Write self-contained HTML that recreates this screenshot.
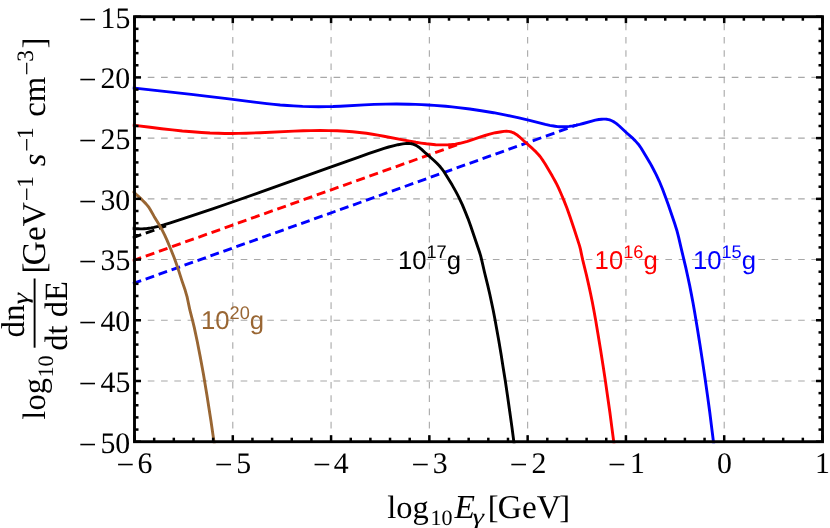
<!DOCTYPE html>
<html><head><meta charset="utf-8"><title>plot</title><style>html,body{margin:0;padding:0;background:#fff}svg{display:block;will-change:transform;text-rendering:geometricPrecision}</style></head><body>
<svg width="830" height="528" viewBox="0 0 830 528">
<rect width="830" height="528" fill="#fff"/>
<g stroke="#a8a8a8" stroke-width="1.1" stroke-dasharray="6.636 6.636" fill="none"><line x1="232.79" y1="441.70" x2="232.79" y2="16.70"/><line x1="331.07" y1="441.70" x2="331.07" y2="16.70"/><line x1="429.36" y1="441.70" x2="429.36" y2="16.70"/><line x1="527.64" y1="441.70" x2="527.64" y2="16.70"/><line x1="625.93" y1="441.70" x2="625.93" y2="16.70"/><line x1="724.21" y1="441.70" x2="724.21" y2="16.70"/><line x1="134.50" y1="380.99" x2="822.50" y2="380.99"/><line x1="134.50" y1="320.27" x2="822.50" y2="320.27"/><line x1="134.50" y1="259.56" x2="822.50" y2="259.56"/><line x1="134.50" y1="198.84" x2="822.50" y2="198.84"/><line x1="134.50" y1="138.13" x2="822.50" y2="138.13"/><line x1="134.50" y1="77.41" x2="822.50" y2="77.41"/></g>
<clipPath id="c"><rect x="132.50" y="16.70" width="690.00" height="426.50"/></clipPath>
<g clip-path="url(#c)" fill="none" stroke-width="2.9" stroke-linejoin="round">
<path d="M132.70,283.72 L527.64,142.61" stroke="#0000ff" stroke-dasharray="8.96 4.8"/>
<path d="M527.64,142.61 L577.60,124.75" stroke="#0000ff" stroke-dasharray="9.1 4.87" stroke-dashoffset="8.61"/>
<path d="M132.60,260.78 L457.80,144.58" stroke="#ff0000" stroke-dasharray="9.1 4.87"/>
<path d="M132.60,237.80 L166.00,225.87" stroke="#000" stroke-dasharray="9.1 4.87"/>
<path d="M132.5 87.9 191.3 94.4 210.0 96.6 226.9 98.6 254.4 102.1 266.8 103.6 274.0 104.4 280.2 105.0 287.4 105.5 293.6 105.9 302.6 106.4 310.6 106.6 318.7 106.7 326.8 106.6 333.0 106.5 340.2 106.2 364.3 104.9 374.1 104.4 385.8 104.1 396.5 104.0 409.1 104.2 415.4 104.4 421.6 104.6 427.9 105.0 434.2 105.4 445.8 106.3 452.0 106.9 458.3 107.6 469.8 109.0 481.3 110.7 493.6 112.7 505.9 115.1 512.0 116.4 519.0 117.9 529.5 120.3 545.3 124.3 549.7 125.3 552.3 125.8 555.0 126.2 557.6 126.6 559.4 126.7 562.9 126.8 565.6 126.7 569.2 126.4 572.7 125.9 576.3 125.2 579.8 124.4 583.2 123.5 591.8 121.1 595.3 120.2 598.9 119.5 601.6 119.2 603.4 119.1 605.2 119.1 607.0 119.3 608.7 119.7 610.4 120.2 611.2 120.5 612.8 121.3 614.3 122.1 616.5 123.7 619.3 126.0 626.5 132.7 633.2 138.7 635.1 140.6 636.9 142.6 638.1 143.9 639.2 145.4 641.2 148.3 647.2 158.3 650.0 162.9 651.7 166.0 653.4 169.2 656.3 174.8 659.3 181.3 662.4 188.7 665.2 196.2 668.3 204.7 674.6 223.3 676.8 230.2 677.7 233.6 678.6 237.1 681.2 248.4 685.8 267.6 687.9 277.2 689.6 285.1 691.3 293.9 693.0 302.7 694.7 312.4 697.2 327.4 700.0 345.1 702.6 361.9 705.1 378.8 707.5 395.6 709.8 412.5 711.9 429.4 713.9 445.4" stroke="#0000ff"/>
<path d="M132.5 125.1 150.1 127.3 161.6 128.7 172.3 129.9 182.3 131.0 192.3 131.8 201.6 132.5 210.0 133.0 218.5 133.3 224.6 133.5 231.6 133.5 238.5 133.4 246.2 133.2 260.1 132.7 294.0 131.1 303.2 130.7 310.9 130.6 320.2 130.5 328.7 130.6 337.2 130.8 345.7 131.3 352.6 131.8 359.5 132.5 366.4 133.3 372.5 134.2 377.8 135.1 383.9 136.2 402.9 139.9 409.7 141.2 415.8 142.3 421.1 143.1 426.4 143.8 431.0 144.3 435.6 144.7 440.2 144.9 445.5 144.9 448.5 144.8 450.8 144.6 455.4 144.1 457.7 143.7 459.9 143.3 463.7 142.3 467.4 141.3 471.1 140.1 481.4 136.6 485.1 135.5 488.8 134.4 492.5 133.4 495.5 132.7 498.6 132.2 501.6 131.7 504.0 131.4 506.3 131.3 508.6 131.4 510.1 131.7 511.5 132.0 513.0 132.6 514.4 133.2 516.3 134.4 517.6 135.3 519.4 136.8 524.5 141.5 532.6 148.7 536.0 151.9 538.6 154.7 540.1 156.5 541.0 157.7 543.2 160.9 545.2 164.1 552.3 176.1 555.3 181.5 556.7 184.2 558.4 187.7 561.2 194.0 564.2 201.1 567.0 208.3 570.1 217.1 574.3 229.5 578.3 241.9 579.5 245.6 580.5 249.4 581.1 252.4 582.7 259.9 586.4 274.9 588.8 285.4 590.6 293.7 592.3 302.0 594.0 311.1 595.8 321.0 598.1 334.7 600.6 349.9 603.0 365.2 605.3 380.4 607.6 396.5 609.9 412.5 612.0 428.6 614.2 445.4" stroke="#ff0000"/>
<path d="M132.4 228.3 136.0 228.7 138.1 228.8 140.2 228.9 142.2 228.9 144.3 228.7 146.3 228.6 149.1 228.2 151.1 227.9 153.8 227.4 158.4 226.3 163.7 224.9 169.6 223.1 183.3 218.7 197.6 213.9 212.6 208.9 228.2 203.5 261.2 191.9 327.7 168.1 358.1 157.3 369.1 153.4 378.2 150.3 384.1 148.4 388.7 147.0 393.3 145.8 398.0 144.7 402.8 143.9 404.9 143.6 406.3 143.5 407.7 143.5 409.0 143.5 410.4 143.6 411.7 143.8 413.0 144.2 414.2 144.6 415.5 145.1 416.7 145.7 417.8 146.5 418.9 147.2 420.0 148.1 421.6 149.4 425.7 153.2 434.0 160.5 436.9 163.3 439.3 165.8 440.6 167.3 441.9 168.9 443.1 170.5 444.3 172.2 446.5 175.7 452.2 185.1 455.6 191.1 457.2 194.1 459.1 197.8 462.3 204.6 465.2 211.6 468.0 218.6 470.6 225.7 479.4 251.7 480.6 255.6 481.6 259.6 484.5 272.3 487.8 285.6 489.8 294.3 491.4 301.7 493.1 309.8 494.8 318.5 496.5 328.0 498.8 340.8 501.0 353.7 503.1 367.2 505.4 381.4 507.5 395.7 509.7 411.3 512.0 427.6 514.3 445.3" stroke="#000"/>
<path d="M132.5 191.1 140.6 198.4 143.2 201.0 145.8 203.6 147.9 206.1 149.1 207.7 150.2 209.5 154.1 216.4 159.8 225.7 162.2 230.1 164.7 235.1 167.2 240.6 170.6 248.7 174.0 257.3 176.0 262.8 177.8 267.9 181.8 280.4 185.2 290.3 186.2 293.8 187.1 296.9 187.8 300.2 189.2 306.9 189.9 310.2 192.6 320.6 194.3 327.6 197.3 341.7 200.2 356.6 203.5 374.5 206.9 395.1 210.9 420.4 214.5 445.4" stroke="#996633"/>
</g>
<g stroke="#000" stroke-width="2.5"><line x1="134.50" y1="441.70" x2="134.50" y2="435.20"/><line x1="134.50" y1="16.70" x2="134.50" y2="23.20"/><line x1="154.16" y1="441.70" x2="154.16" y2="437.70"/><line x1="154.16" y1="16.70" x2="154.16" y2="20.70"/><line x1="173.81" y1="441.70" x2="173.81" y2="437.70"/><line x1="173.81" y1="16.70" x2="173.81" y2="20.70"/><line x1="193.47" y1="441.70" x2="193.47" y2="437.70"/><line x1="193.47" y1="16.70" x2="193.47" y2="20.70"/><line x1="213.13" y1="441.70" x2="213.13" y2="437.70"/><line x1="213.13" y1="16.70" x2="213.13" y2="20.70"/><line x1="232.79" y1="441.70" x2="232.79" y2="435.20"/><line x1="232.79" y1="16.70" x2="232.79" y2="23.20"/><line x1="252.44" y1="441.70" x2="252.44" y2="437.70"/><line x1="252.44" y1="16.70" x2="252.44" y2="20.70"/><line x1="272.10" y1="441.70" x2="272.10" y2="437.70"/><line x1="272.10" y1="16.70" x2="272.10" y2="20.70"/><line x1="291.76" y1="441.70" x2="291.76" y2="437.70"/><line x1="291.76" y1="16.70" x2="291.76" y2="20.70"/><line x1="311.41" y1="441.70" x2="311.41" y2="437.70"/><line x1="311.41" y1="16.70" x2="311.41" y2="20.70"/><line x1="331.07" y1="441.70" x2="331.07" y2="435.20"/><line x1="331.07" y1="16.70" x2="331.07" y2="23.20"/><line x1="350.73" y1="441.70" x2="350.73" y2="437.70"/><line x1="350.73" y1="16.70" x2="350.73" y2="20.70"/><line x1="370.39" y1="441.70" x2="370.39" y2="437.70"/><line x1="370.39" y1="16.70" x2="370.39" y2="20.70"/><line x1="390.04" y1="441.70" x2="390.04" y2="437.70"/><line x1="390.04" y1="16.70" x2="390.04" y2="20.70"/><line x1="409.70" y1="441.70" x2="409.70" y2="437.70"/><line x1="409.70" y1="16.70" x2="409.70" y2="20.70"/><line x1="429.36" y1="441.70" x2="429.36" y2="435.20"/><line x1="429.36" y1="16.70" x2="429.36" y2="23.20"/><line x1="449.01" y1="441.70" x2="449.01" y2="437.70"/><line x1="449.01" y1="16.70" x2="449.01" y2="20.70"/><line x1="468.67" y1="441.70" x2="468.67" y2="437.70"/><line x1="468.67" y1="16.70" x2="468.67" y2="20.70"/><line x1="488.33" y1="441.70" x2="488.33" y2="437.70"/><line x1="488.33" y1="16.70" x2="488.33" y2="20.70"/><line x1="507.99" y1="441.70" x2="507.99" y2="437.70"/><line x1="507.99" y1="16.70" x2="507.99" y2="20.70"/><line x1="527.64" y1="441.70" x2="527.64" y2="435.20"/><line x1="527.64" y1="16.70" x2="527.64" y2="23.20"/><line x1="547.30" y1="441.70" x2="547.30" y2="437.70"/><line x1="547.30" y1="16.70" x2="547.30" y2="20.70"/><line x1="566.96" y1="441.70" x2="566.96" y2="437.70"/><line x1="566.96" y1="16.70" x2="566.96" y2="20.70"/><line x1="586.61" y1="441.70" x2="586.61" y2="437.70"/><line x1="586.61" y1="16.70" x2="586.61" y2="20.70"/><line x1="606.27" y1="441.70" x2="606.27" y2="437.70"/><line x1="606.27" y1="16.70" x2="606.27" y2="20.70"/><line x1="625.93" y1="441.70" x2="625.93" y2="435.20"/><line x1="625.93" y1="16.70" x2="625.93" y2="23.20"/><line x1="645.59" y1="441.70" x2="645.59" y2="437.70"/><line x1="645.59" y1="16.70" x2="645.59" y2="20.70"/><line x1="665.24" y1="441.70" x2="665.24" y2="437.70"/><line x1="665.24" y1="16.70" x2="665.24" y2="20.70"/><line x1="684.90" y1="441.70" x2="684.90" y2="437.70"/><line x1="684.90" y1="16.70" x2="684.90" y2="20.70"/><line x1="704.56" y1="441.70" x2="704.56" y2="437.70"/><line x1="704.56" y1="16.70" x2="704.56" y2="20.70"/><line x1="724.21" y1="441.70" x2="724.21" y2="435.20"/><line x1="724.21" y1="16.70" x2="724.21" y2="23.20"/><line x1="743.87" y1="441.70" x2="743.87" y2="437.70"/><line x1="743.87" y1="16.70" x2="743.87" y2="20.70"/><line x1="763.53" y1="441.70" x2="763.53" y2="437.70"/><line x1="763.53" y1="16.70" x2="763.53" y2="20.70"/><line x1="783.19" y1="441.70" x2="783.19" y2="437.70"/><line x1="783.19" y1="16.70" x2="783.19" y2="20.70"/><line x1="802.84" y1="441.70" x2="802.84" y2="437.70"/><line x1="802.84" y1="16.70" x2="802.84" y2="20.70"/><line x1="822.50" y1="441.70" x2="822.50" y2="435.20"/><line x1="822.50" y1="16.70" x2="822.50" y2="23.20"/><line x1="134.50" y1="441.70" x2="141.00" y2="441.70"/><line x1="822.50" y1="441.70" x2="816.00" y2="441.70"/><line x1="134.50" y1="429.56" x2="138.50" y2="429.56"/><line x1="822.50" y1="429.56" x2="818.50" y2="429.56"/><line x1="134.50" y1="417.41" x2="138.50" y2="417.41"/><line x1="822.50" y1="417.41" x2="818.50" y2="417.41"/><line x1="134.50" y1="405.27" x2="138.50" y2="405.27"/><line x1="822.50" y1="405.27" x2="818.50" y2="405.27"/><line x1="134.50" y1="393.13" x2="138.50" y2="393.13"/><line x1="822.50" y1="393.13" x2="818.50" y2="393.13"/><line x1="134.50" y1="380.99" x2="141.00" y2="380.99"/><line x1="822.50" y1="380.99" x2="816.00" y2="380.99"/><line x1="134.50" y1="368.84" x2="138.50" y2="368.84"/><line x1="822.50" y1="368.84" x2="818.50" y2="368.84"/><line x1="134.50" y1="356.70" x2="138.50" y2="356.70"/><line x1="822.50" y1="356.70" x2="818.50" y2="356.70"/><line x1="134.50" y1="344.56" x2="138.50" y2="344.56"/><line x1="822.50" y1="344.56" x2="818.50" y2="344.56"/><line x1="134.50" y1="332.41" x2="138.50" y2="332.41"/><line x1="822.50" y1="332.41" x2="818.50" y2="332.41"/><line x1="134.50" y1="320.27" x2="141.00" y2="320.27"/><line x1="822.50" y1="320.27" x2="816.00" y2="320.27"/><line x1="134.50" y1="308.13" x2="138.50" y2="308.13"/><line x1="822.50" y1="308.13" x2="818.50" y2="308.13"/><line x1="134.50" y1="295.99" x2="138.50" y2="295.99"/><line x1="822.50" y1="295.99" x2="818.50" y2="295.99"/><line x1="134.50" y1="283.84" x2="138.50" y2="283.84"/><line x1="822.50" y1="283.84" x2="818.50" y2="283.84"/><line x1="134.50" y1="271.70" x2="138.50" y2="271.70"/><line x1="822.50" y1="271.70" x2="818.50" y2="271.70"/><line x1="134.50" y1="259.56" x2="141.00" y2="259.56"/><line x1="822.50" y1="259.56" x2="816.00" y2="259.56"/><line x1="134.50" y1="247.41" x2="138.50" y2="247.41"/><line x1="822.50" y1="247.41" x2="818.50" y2="247.41"/><line x1="134.50" y1="235.27" x2="138.50" y2="235.27"/><line x1="822.50" y1="235.27" x2="818.50" y2="235.27"/><line x1="134.50" y1="223.13" x2="138.50" y2="223.13"/><line x1="822.50" y1="223.13" x2="818.50" y2="223.13"/><line x1="134.50" y1="210.99" x2="138.50" y2="210.99"/><line x1="822.50" y1="210.99" x2="818.50" y2="210.99"/><line x1="134.50" y1="198.84" x2="141.00" y2="198.84"/><line x1="822.50" y1="198.84" x2="816.00" y2="198.84"/><line x1="134.50" y1="186.70" x2="138.50" y2="186.70"/><line x1="822.50" y1="186.70" x2="818.50" y2="186.70"/><line x1="134.50" y1="174.56" x2="138.50" y2="174.56"/><line x1="822.50" y1="174.56" x2="818.50" y2="174.56"/><line x1="134.50" y1="162.41" x2="138.50" y2="162.41"/><line x1="822.50" y1="162.41" x2="818.50" y2="162.41"/><line x1="134.50" y1="150.27" x2="138.50" y2="150.27"/><line x1="822.50" y1="150.27" x2="818.50" y2="150.27"/><line x1="134.50" y1="138.13" x2="141.00" y2="138.13"/><line x1="822.50" y1="138.13" x2="816.00" y2="138.13"/><line x1="134.50" y1="125.99" x2="138.50" y2="125.99"/><line x1="822.50" y1="125.99" x2="818.50" y2="125.99"/><line x1="134.50" y1="113.84" x2="138.50" y2="113.84"/><line x1="822.50" y1="113.84" x2="818.50" y2="113.84"/><line x1="134.50" y1="101.70" x2="138.50" y2="101.70"/><line x1="822.50" y1="101.70" x2="818.50" y2="101.70"/><line x1="134.50" y1="89.56" x2="138.50" y2="89.56"/><line x1="822.50" y1="89.56" x2="818.50" y2="89.56"/><line x1="134.50" y1="77.41" x2="141.00" y2="77.41"/><line x1="822.50" y1="77.41" x2="816.00" y2="77.41"/><line x1="134.50" y1="65.27" x2="138.50" y2="65.27"/><line x1="822.50" y1="65.27" x2="818.50" y2="65.27"/><line x1="134.50" y1="53.13" x2="138.50" y2="53.13"/><line x1="822.50" y1="53.13" x2="818.50" y2="53.13"/><line x1="134.50" y1="40.99" x2="138.50" y2="40.99"/><line x1="822.50" y1="40.99" x2="818.50" y2="40.99"/><line x1="134.50" y1="28.84" x2="138.50" y2="28.84"/><line x1="822.50" y1="28.84" x2="818.50" y2="28.84"/><line x1="134.50" y1="16.70" x2="141.00" y2="16.70"/><line x1="822.50" y1="16.70" x2="816.00" y2="16.70"/></g>
<rect x="134.50" y="16.70" width="688.00" height="425.00" fill="none" stroke="#000" stroke-width="2.9"/>
<g font-family="'Liberation Serif', serif" fill="#000">
<text x="78.72" y="454.50" font-size="31.50">−</text>
<text x="100.42" y="452.50" font-size="29.80">50</text>
<text x="78.72" y="393.79" font-size="31.50">−</text>
<text x="100.49" y="391.79" font-size="29.80">45</text>
<text x="78.72" y="333.07" font-size="31.50">−</text>
<text x="100.42" y="331.07" font-size="29.80">40</text>
<text x="78.72" y="272.36" font-size="31.50">−</text>
<text x="100.49" y="270.36" font-size="29.80">35</text>
<text x="78.72" y="211.64" font-size="31.50">−</text>
<text x="100.42" y="209.64" font-size="29.80">30</text>
<text x="78.72" y="150.93" font-size="31.50">−</text>
<text x="100.49" y="148.93" font-size="29.80">25</text>
<text x="78.72" y="90.21" font-size="31.50">−</text>
<text x="100.42" y="88.21" font-size="29.80">20</text>
<text x="78.72" y="29.50" font-size="31.50">−</text>
<text x="100.49" y="27.50" font-size="29.80">15</text>
<text x="116.52" y="474.90" font-size="31.50">−</text>
<text x="137.59" y="473.20" font-size="29.80">6</text>
<text x="214.81" y="474.90" font-size="31.50">−</text>
<text x="236.18" y="473.20" font-size="29.80">5</text>
<text x="313.10" y="474.90" font-size="31.50">−</text>
<text x="333.72" y="473.20" font-size="29.80">4</text>
<text x="411.38" y="474.90" font-size="31.50">−</text>
<text x="432.75" y="473.20" font-size="29.80">3</text>
<text x="509.67" y="474.90" font-size="31.50">−</text>
<text x="531.48" y="473.20" font-size="29.80">2</text>
<text x="607.95" y="474.90" font-size="31.50">−</text>
<text x="629.92" y="473.20" font-size="29.80">1</text>
<text x="717.06" y="473.20" font-size="29.80">0</text>
<text x="814.94" y="473.20" font-size="29.80">1</text>
</g>
<g font-family="'Liberation Serif', serif" fill="#000">
<text x="387.35" y="518.10" font-size="32.50">log</text>
<text x="430.47" y="525.00" font-size="22.00">10</text>
<text x="454.62" y="518.10" font-size="33.50" font-style="italic">E</text>
<text transform="translate(472.39,523.80) scale(1.300,1)" font-size="22.50" font-style="italic">γ</text>
<text x="487.76" y="518.10" font-size="32.50">[</text>
<text x="497.87" y="518.10" font-size="33.30">GeV</text>
<text x="559.25" y="518.10" font-size="32.50">]</text>
</g>
<g transform="translate(45,419) rotate(-90)" font-family="'Liberation Serif', serif" fill="#000">
<text x="-0.65" y="0.00" font-size="32.50">log</text>
<text x="41.58" y="7.80" font-size="22.00">10</text>
<line x1="71.3" x2="140.5" y1="-10.4" y2="-10.4" stroke="#000" stroke-width="1.9"/>
<text x="81.55" y="-21.30" font-size="33.00">dn</text>
<text transform="translate(114.39,-17.30) scale(1.300,1)" font-size="22.50" font-style="italic">γ</text>
<text x="68.36" y="22.20" font-size="32.50">dt dE</text>
<text x="145.56" y="0.00" font-size="32.50">[</text>
<text x="153.87" y="0.00" font-size="33.30">GeV</text>
<text x="217.65" y="-10.50" font-size="25.00">−</text>
<text x="231.24" y="-12.30" font-size="23.50">1</text>
<text x="252.79" y="0.00" font-size="32.50" font-style="italic">s</text>
<text x="267.35" y="-10.50" font-size="25.00">−</text>
<text x="280.14" y="-12.30" font-size="23.50">1</text>
<text x="302.27" y="0.00" font-size="32.80">cm</text>
<text x="343.45" y="-10.50" font-size="25.00">−</text>
<text x="357.18" y="-12.30" font-size="23.50">3</text>
<text x="370.46" y="0.00" font-size="32.50">]</text>
</g>
<text x="201.0" y="329.3" font-family="'Liberation Sans', sans-serif" font-size="25.7" fill="#996633">10<tspan font-size="18.2" dy="-10.4">20</tspan><tspan dy="10.4">g</tspan></text>
<text x="397.9" y="268.7" font-family="'Liberation Sans', sans-serif" font-size="25.7" fill="#000">10<tspan font-size="18.2" dy="-10.4">17</tspan><tspan dy="10.4">g</tspan></text>
<text x="594.6" y="268.7" font-family="'Liberation Sans', sans-serif" font-size="25.7" fill="#ff0000">10<tspan font-size="18.2" dy="-10.4">16</tspan><tspan dy="10.4">g</tspan></text>
<text x="692.9" y="268.7" font-family="'Liberation Sans', sans-serif" font-size="25.7" fill="#0000ff">10<tspan font-size="18.2" dy="-10.4">15</tspan><tspan dy="10.4">g</tspan></text>
</svg>
</body></html>
